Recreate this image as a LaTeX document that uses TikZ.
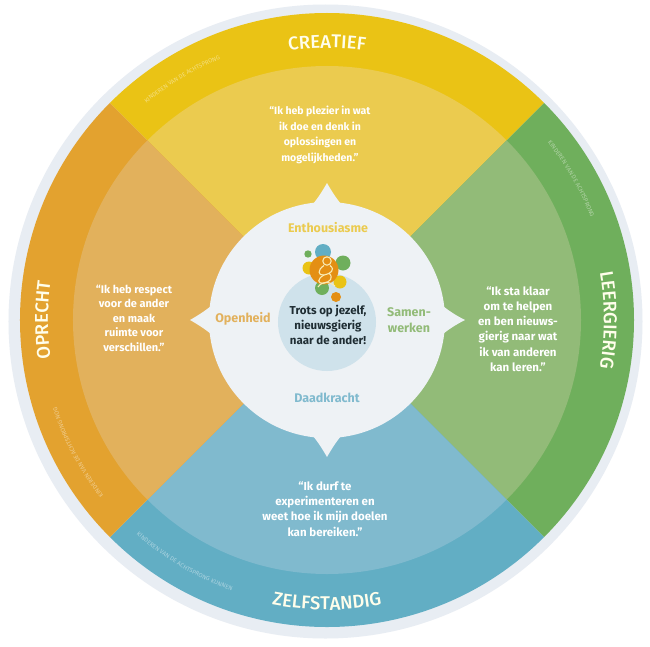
\documentclass[tikz,border=0pt]{standalone}
\usepackage{fontspec}
\setmainfont{Fira Sans}
\newfontfamily\ringfont{Fira Sans Medium}
\usetikzlibrary{decorations.text}
\definecolor{rimgray}{HTML}{E8EDF3}
\definecolor{hubwhite}{HTML}{EEF2F5}
\definecolor{hubblue}{HTML}{CFE2EB}
\definecolor{inkdark}{HTML}{1F2D33}
\definecolor{yellowout}{HTML}{EAC315}
\definecolor{yellowin}{HTML}{EBCB4F}
\definecolor{greenout}{HTML}{6FAF5C}
\definecolor{greenin}{HTML}{92BB78}
\definecolor{blueout}{HTML}{62AEC4}
\definecolor{bluein}{HTML}{80BACE}
\definecolor{orangeout}{HTML}{E3A22F}
\definecolor{orangein}{HTML}{E2B15C}
\definecolor{logoorange}{HTML}{E48F14}
\definecolor{logopale}{HTML}{F8EBB5}
\tikzset{
  quote/.style={align=center,text=white,font=\fontsize{11.5}{15.3}\selectfont\bfseries,inner sep=0pt},
  hublabel/.style={align=center,font=\fontsize{12.5}{16}\selectfont\bfseries,inner sep=0pt},
  ringlabel/.style={decorate,decoration={text along path,text align=center,text={|\ringfont\fontsize{18.5}{19}\selectfont\color{white!92!yellow}|#1}}},
  tinylabel/.style n args={2}{decorate,decoration={text along path,text align=center,text={|\fontsize{6}{6}\selectfont\color{white!45!#1}|#2}}},
  logoline/.style={logopale,line width=1.1pt}
}
\begin{document}
\begin{tikzpicture}[x=1pt,y=1pt]
  \useasboundingbox (-327,320) rectangle (323,-326);
  \fill[white] (-327,320) rectangle (323,-326);
  \fill[rimgray] (-1.5,-1.5) circle (317);
  % the four quarters, outer ring and inner part
  \foreach \ang/\colout/\colin in {45/yellowout/yellowin,-45/greenout/greenin,225/blueout/bluein,135/orangeout/orangein}{
    \fill[\colout] (0,0) -- (\ang:307pt) arc[start angle=\ang,delta angle=90,radius=307pt] -- cycle;
    \fill[\colin] (0,0) -- (\ang:254pt) arc[start angle=\ang,delta angle=90,radius=254pt] -- cycle;
  }
  % hub with its four points
  \fill[hubwhite] (0,0) circle (118);
  \fill[hubwhite] (-14,116) .. controls (-9,122) and (-4,130) .. (0,137) .. controls (4,130) and (9,122) .. (14,116) -- cycle;
  \fill[hubwhite] (-14,-116) .. controls (-9,-122) and (-4,-130) .. (0,-137) .. controls (4,-130) and (9,-122) .. (14,-116) -- cycle;
  \fill[hubwhite] (116,-14) .. controls (122,-9) and (130,-4) .. (138,0) .. controls (130,4) and (122,9) .. (116,14) -- cycle;
  \fill[hubwhite] (-116,-14) .. controls (-122,-9) and (-130,-4) .. (-137,0) .. controls (-130,4) and (-122,9) .. (-116,14) -- cycle;
  \fill[hubblue] (0,-2) circle (49);
  % logo
  \fill[blueout] (-4,68) circle (8);
  \fill[greenout] (-19,66) circle (3.7);
  \fill[greenout] (16,57) circle (7.5);
  \fill[yellowout] (-18,52) circle (6.5);
  \fill[yellowout] (13,38) circle (6.5);
  \fill[greenout] (-5,32) circle (7);
  \fill[logoorange] (-3,50) circle (14.5);
  \fill[logoorange] (9,23) circle (5);
  \draw[logoline] (0,59) circle (4.2);
  \draw[logoline] (-3,54.5) .. controls (-10,50) and (-9,44) .. (-3,45) .. controls (3,46) and (9,50) .. (3,54.5);
  \draw[logoline] (-3,45) .. controls (-10,41) and (-10,36) .. (-3,37) .. controls (3,38) and (7,42) .. (2,47);
  \draw[logoline] (-9,33) .. controls (-5,39) and (3,39) .. (8,34);
  % ring names
  \path[ringlabel=CREATIEF] (124:272pt) arc[start angle=124,end angle=56,radius=272pt];
  \path[ringlabel=LEERGIERIG] (34:277pt) arc[start angle=34,end angle=-34,radius=277pt];
  \path[ringlabel=OPRECHT] (214:279pt) arc[start angle=214,end angle=146,radius=279pt];
  \path[ringlabel=ZELFSTANDIG] (236:290pt) arc[start angle=236,end angle=304,radius=290pt];
  % tiny lines on the ring
  \path[tinylabel={yellowout}{KINDEREN VAN DE ACHTSPRONG}] (131:282pt) arc[start angle=131,end angle=111,radius=282pt];
  \path[tinylabel={greenout}{KINDEREN VAN DE ACHTSPRONG}] (40:283pt) arc[start angle=40,end angle=20,radius=283pt];
  \path[tinylabel={orangeout}{KINDEREN VAN DE ACHTSPRONG NOG}] (222:284pt) arc[start angle=222,end angle=194,radius=284pt];
  \path[tinylabel={blueout}{KINDEREN VAN DE ACHTSPRONG KUNNEN}] (226:287pt) arc[start angle=226,end angle=253,radius=287pt];
  % texts
  \node[quote,font=\fontsize{10.5}{15.5}\selectfont\bfseries] (quotetop) at (-7,185) {“Ik heb plezier in wat\\ik doe en denk in\\oplossingen en\\mogelijkheden.”};
  \node[quote] (quoteright) at (191,-9) {“Ik sta klaar\\om te helpen\\en ben nieuws-\\gierig naar wat\\ik van anderen\\kan leren.”};
  \node[quote,font=\fontsize{11}{14.5}\selectfont\bfseries] (quoteleft) at (-193,2) {“Ik heb respect\\voor de ander\\en maak\\ruimte voor\\verschillen.”};
  \node[quote] (quotebottom) at (-2,-189) {“Ik durf te\\experimenteren en\\weet hoe ik mijn doelen\\kan bereiken.”};
  \node[hublabel,text=yellowin] (enthousiasme) at (1,92) {Enthousiasme};
  \node[hublabel,text=bluein] (daadkracht) at (0,-78) {Daadkracht};
  \node[hublabel,text=orangein] (openheid) at (-84,1) {Openheid};
  \node[hublabel,text=greenin] (samenwerken) at (82,0) {Samen-\\werken};
  \node[hublabel,text=inkdark,font=\fontsize{11.5}{15}\selectfont\bfseries] (trots) at (1,-5) {Trots op jezelf,\\nieuwsgierig\\naar de ander!};
\end{tikzpicture}
\end{document}
